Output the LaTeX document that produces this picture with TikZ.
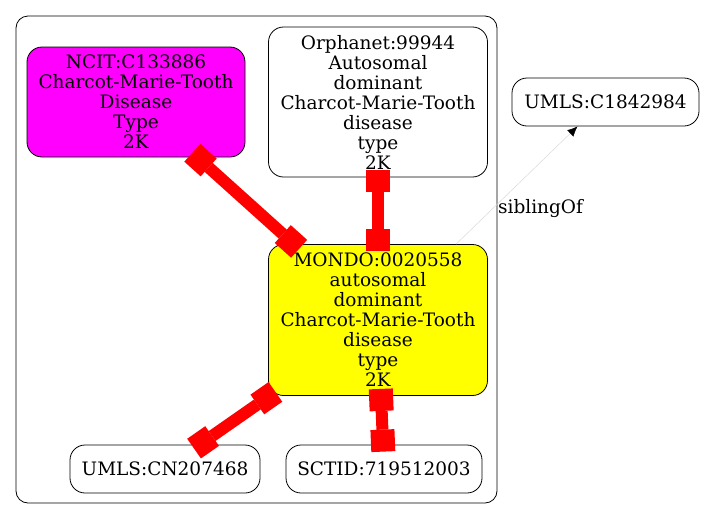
\documentclass[tikz,border=0pt]{standalone}
\usepackage{fontspec}
\setmainfont{DejaVu Serif}
\usetikzlibrary{arrows.meta}
\definecolor{ncitfill}{RGB}{255,0,255}
\definecolor{mondofill}{RGB}{255,255,0}
\definecolor{xrefred}{RGB}{255,0,0}
\begin{document}
\begin{tikzpicture}[x=1pt, y=-1pt, >=Latex,
  term/.style={draw, line width=0.8pt, rounded corners=15pt, align=center, inner sep=0pt,
    font=\fontsize{18.5}{20}\selectfont},
  xref/.style={draw=xrefred, line width=12pt,
    {Square[length=22pt,width=24pt,line width=0pt]}-{Square[length=22pt,width=24pt,line width=0pt]},
    shorten <=-7pt, shorten >=-7pt}]
\useasboundingbox (0,0) rectangle (704,520);

% cluster
\draw[line width=0.8pt, rounded corners=12pt] (16,16) rectangle (497,503);

\node[term, fill=ncitfill, minimum width=218pt, minimum height=110pt] (ncit) at (136,102)
  {NCIT:C133886\\Charcot-Marie-Tooth\\Disease\\Type\\2K};
\node[term, minimum width=219pt, minimum height=150pt] (orpha) at (378,102)
  {Orphanet:99944\\Autosomal\\dominant\\Charcot-Marie-Tooth\\disease\\type\\2K};
\node[term, fill=mondofill, minimum width=219pt, minimum height=151pt] (mondo) at (378,320)
  {MONDO:0020558\\autosomal\\dominant\\Charcot-Marie-Tooth\\disease\\type\\2K};
\node[term, minimum width=190pt, minimum height=48pt] (umlscn) at (165,469) {UMLS:CN207468};
\node[term, minimum width=196pt, minimum height=48pt] (sctid) at (384,469) {SCTID:719512003};
\node[term, minimum width=187pt, minimum height=48pt] (umlsc) at (605.5,102) {UMLS:C1842984};

\draw[xref] (ncit) -- (mondo);
\draw[xref] (orpha) -- (mondo);
\draw[xref] (mondo) -- (umlscn);
\draw[xref] (mondo) -- (sctid);

\draw[black!15, line width=0.5pt, -{Latex[black,length=10pt,width=9pt]}] (mondo) -- ([xshift=-28pt]umlsc.south)
  node[pos=0.3, right=2pt, black, font=\fontsize{18.5}{20}\selectfont]{siblingOf};

\end{tikzpicture}
\end{document}
